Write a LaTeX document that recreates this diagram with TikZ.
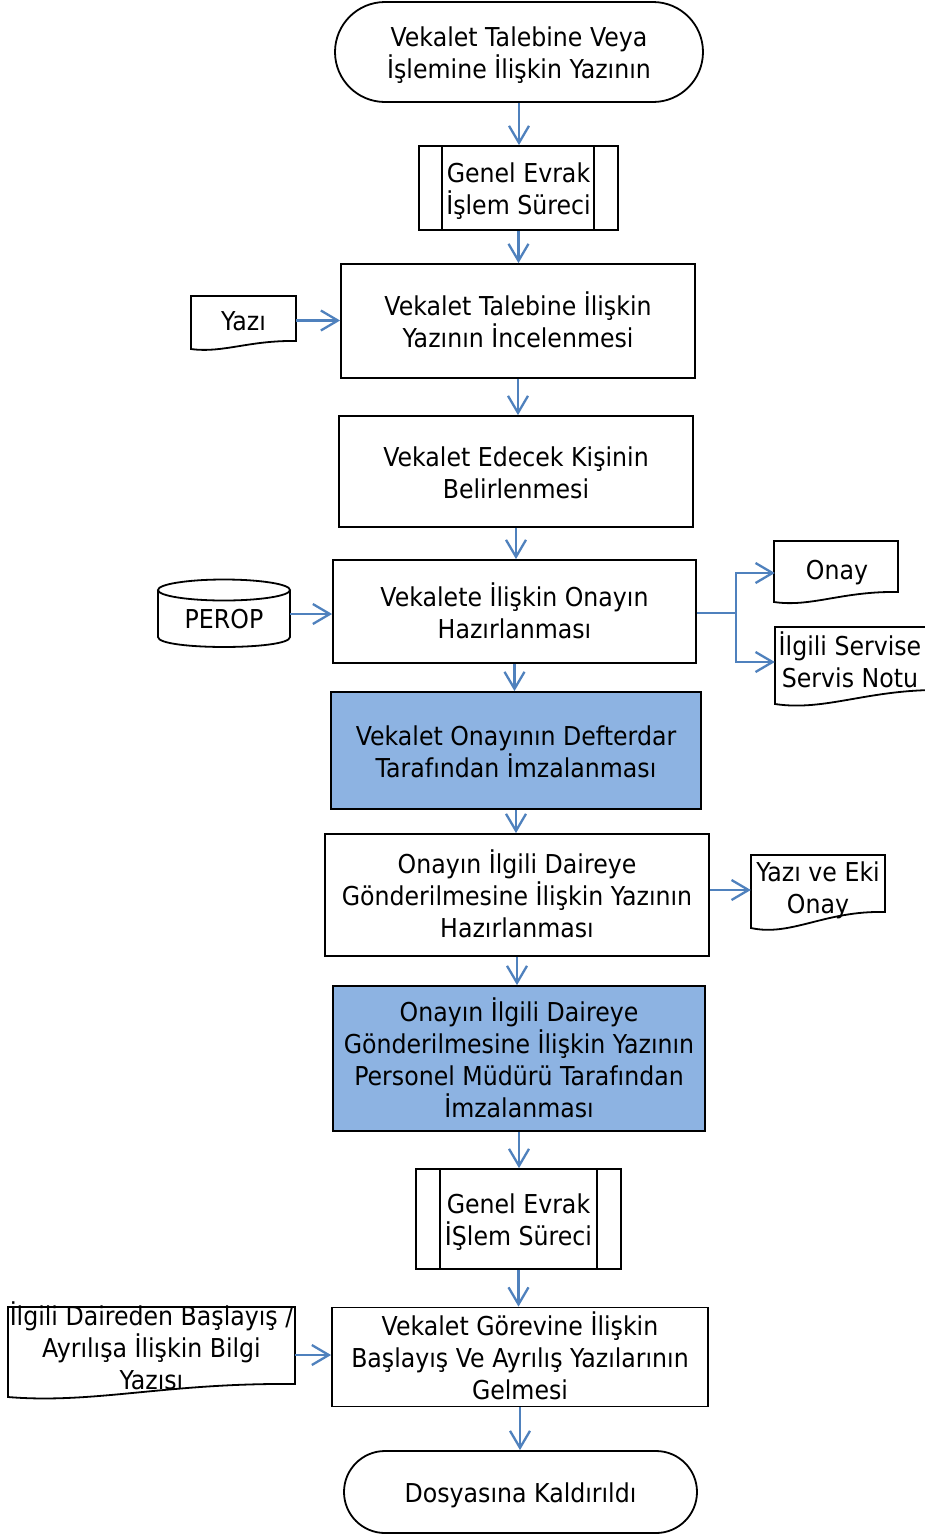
\documentclass[tikz,border=0pt]{standalone}
\usepackage{fontspec}
\setmainfont{DejaVu Sans}[FakeStretch=0.91]
\usetikzlibrary{arrows.meta,shapes.misc,calc}
\definecolor{arrowblue}{RGB}{79,129,189}
\definecolor{boxblue}{RGB}{141,179,226}
\tikzset{
  txtbase/.style={font=\fontsize{26}{32}\selectfont, align=center, inner sep=0pt},
  lines/.style={txtbase,
    execute at begin node={\rule{0pt}{\dimexpr 32pt*(#1-1)+28pt\relax}},
    execute at end node={\rule[-7pt]{0pt}{0pt}}},
  procbox/.style={draw=black, line width=1.8pt, rectangle},
  bluebox/.style={procbox, fill=boxblue},
  termbox/.style={draw=black, line width=1.8pt, rounded rectangle},
  docnode/.style={txtbase,
    execute at begin node={\rule{0pt}{28pt}}, execute at end node={\rule[-7pt]{0pt}{0pt}}},
  shapeline/.style={draw=black, line width=1.8pt, fill=white},
  sideline/.style={draw=black, line width=1.8pt},
  arr/.style={draw=arrowblue, line width=2.3pt, -{Straight Barb[length=17pt,width=20pt]}}
}
\newcommand\docout[5]{\draw[shapeline] (#1,#2) -- (#1,#4) .. controls ({#1+0.3*(#3-#1)},{#4+0.55*#5}) and ({#1+0.55*(#3-#1)},{#4-1.1*#5}) .. (#3,{#4-#5}) -- (#3,#2) -- cycle;}
\begin{document}
\begin{tikzpicture}[x=1pt,y=-1pt]
\clip (0,0) rectangle (925,1535);
\fill[white] (0,0) rectangle (925,1535);

% main column
\node[termbox, lines=2, minimum width=368pt, minimum height=100pt] (start) at (519,52) {Vekalet Talebine Veya\\İşlemine İlişkin Yazının};
\node[procbox, lines=2, minimum width=199pt, minimum height=84pt] (ge1) at (518.5,188) {Genel Evrak\\İşlem Süreci};
\draw[sideline] ([xshift=24pt]ge1.north west) -- ([xshift=24pt]ge1.south west);
\draw[sideline] ([xshift=-25pt]ge1.north east) -- ([xshift=-25pt]ge1.south east);
\node[procbox, lines=2, minimum width=354pt, minimum height=114pt] (b1) at (518,321) {Vekalet Talebine İlişkin\\Yazının İncelenmesi};
\node[procbox, lines=2, minimum width=354pt, minimum height=111pt] (b2) at (516,471.5) {Vekalet Edecek Kişinin\\Belirlenmesi};
\node[procbox, lines=2, minimum width=363pt, minimum height=103pt] (b3) at (514.5,611.5) {Vekalete İlişkin Onayın\\Hazırlanması};
\node[bluebox, lines=2, minimum width=370pt, minimum height=117pt] (bl1) at (516,750.5) {Vekalet Onayının Defterdar\\Tarafından İmzalanması};
\node[procbox, lines=3, minimum width=384pt, minimum height=122pt] (b4) at (517,895) {Onayın İlgili Daireye\\Gönderilmesine İlişkin Yazının\\Hazırlanması};
\node[bluebox, lines=4, minimum width=372pt, minimum height=145pt] (bl2) at (519,1058.5) {Onayın İlgili Daireye\\Gönderilmesine İlişkin Yazının\\Personel Müdürü Tarafından\\İmzalanması};
\node[procbox, lines=2, minimum width=205pt, minimum height=100pt] (ge2) at (518.5,1219) {Genel Evrak\\İŞlem Süreci};
\draw[sideline] ([xshift=25pt]ge2.north west) -- ([xshift=25pt]ge2.south west);
\draw[sideline] ([xshift=-25pt]ge2.north east) -- ([xshift=-25pt]ge2.south east);
\node[procbox, lines=3, minimum width=376pt, minimum height=98pt] (b5) at (520,1357) {Vekalet Görevine İlişkin\\Başlayış Ve Ayrılış Yazılarının\\Gelmesi};
\node[termbox, lines=1, minimum width=353pt, minimum height=82pt] (end) at (520.5,1492) {Dosyasına Kaldırıldı};

% side documents
\docout{191}{296}{296}{349}{8}
\node[docnode, minimum width=105pt] (yazi) at (243.5,319.5) {Yazı};
\docout{774}{541}{898}{602}{10}
\node[docnode, minimum width=124pt] (onay) at (837,568.5) {Onay};
\docout{775}{627}{945}{704}{14}
\node[docnode, minimum width=150pt] (servis) at (850,663) {İlgili Servise\\Servis Notu};
\docout{751}{855}{885}{928}{16}
\node[docnode, minimum width=134pt] (yazieki) at (818,891.5) {Yazı ve Eki\\Onay};
\docout{8}{1307}{295}{1397}{13}
\node[docnode, minimum width=287pt] (ilgili) at (151.5,1349) {İlgili Daireden Başlayış /\\Ayrılışa İlişkin Bilgi\\Yazısı};

% database
\draw[shapeline] (158,590) -- (158,637) .. controls (158,650.3) and (290,650.3) .. (290,637) -- (290,590);
\draw[shapeline] (224,590) ellipse (66 and 10.5);
\node[docnode, minimum width=132pt] (perop) at (224,618) {PEROP};

% connectors
\draw[arr] (start.south) -- (start.south |- ge1.north);
\draw[arr] (ge1.south) -- (ge1.south |- b1.north);
\draw[arr] (b1.south) -- (b1.south |- b2.north);
\draw[arr] (b2.south) -- (b2.south |- b3.north);
\draw[arr] (b3.south) -- (b3.south |- bl1.north);
\draw[arr] (bl1.south) -- (bl1.south |- b4.north);
\draw[arr] (b4.south) -- (b4.south |- bl2.north);
\draw[arr] (bl2.south) -- (bl2.south |- ge2.north);
\draw[arr] (ge2.south) -- (ge2.south |- b5.north);
\draw[arr] (b5.south) -- (b5.south |- end.north);

\draw[arr] ([yshift=-1pt]yazi.east) -- ([yshift=-1pt]yazi.east -| b1.west);
\draw[arr] ([yshift=4pt]perop.east) -- ([yshift=4pt]perop.east -| b3.west);
\coordinate (split) at ([xshift=39pt,yshift=-1.5pt]b3.east);
\draw[arr] (split -| b3.east) -- (split) |- ([yshift=-4.5pt]onay.west);
\draw[arr] (split) |- ([yshift=1pt]servis.west);
\draw[arr] ([yshift=1.5pt]yazieki.west -| b4.east) -- ([yshift=1.5pt]yazieki.west);
\draw[arr] ([yshift=-6pt]ilgili.east) -- ([yshift=-6pt]ilgili.east -| b5.west);
\end{tikzpicture}
\end{document}
